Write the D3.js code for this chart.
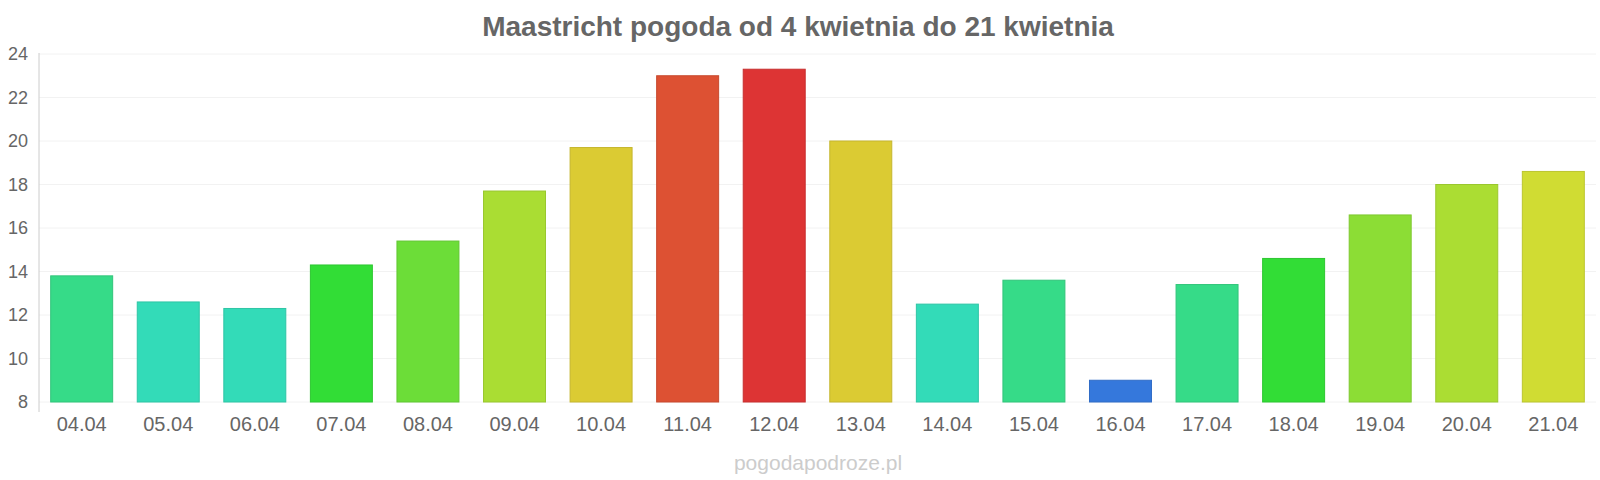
<!DOCTYPE html>
<html lang="pl">
<head>
<meta charset="UTF-8">
<title>Maastricht pogoda</title>
<style>
  * { margin: 0; padding: 0; box-sizing: border-box; }
  body { background: #fff; font-family: "Liberation Sans", Arial, sans-serif; overflow: hidden; }
</style>
</head>
<body>
<svg id="chart" width="1600" height="480"></svg>
<script src="https://d3js.org/d3.v7.min.js"></script>
<script>
  const days = ["04.04", "05.04", "06.04", "07.04", "08.04", "09.04", "10.04", "11.04", "12.04",
    "13.04", "14.04", "15.04", "16.04", "17.04", "18.04", "19.04", "20.04", "21.04"];
  const temps = [13.8, 12.6, 12.3, 14.3, 15.4, 17.7, 19.7, 23.0, 23.3,
    20.0, 12.5, 13.6, 9.0, 13.4, 14.6, 16.6, 18.0, 18.6];
  const colors = ["#36db88", "#33dbb8", "#33dbb8", "#32dd36", "#6cdd38", "#aadd33", "#dbcb33", "#dd5133", "#dd3434",
    "#dbcb33", "#33dbb8", "#36db88", "#3578dc", "#36db88", "#32dd36", "#8cdd35", "#abdd33", "#d0dc33"];
  const yTicks = [8, 10, 12, 14, 16, 18, 20, 22, 24];

  const svg = d3.select("#chart");
  const plotLeft = 39, plotRight = 1596, plotTop = 54, plotBottom = 402;
  const font = "'Liberation Sans', Arial, sans-serif";

  const x = d3.scaleBand().domain(days).range([plotLeft, plotRight]).paddingInner(0.284).paddingOuter(0.135);
  const y = d3.scaleLinear().domain([8, 24]).range([plotBottom, plotTop]);

  // Grid
  svg.append("g").selectAll("line").data(yTicks).join("line")
    .attr("x1", plotLeft).attr("x2", plotRight)
    .attr("y1", d => y(d)).attr("y2", d => y(d))
    .attr("stroke", "#f2f2f2").attr("stroke-width", 1);

  // Bars
  svg.append("g").selectAll("rect").data(temps).join("rect")
    .attr("x", (d, i) => x(days[i]))
    .attr("y", d => y(d))
    .attr("width", x.bandwidth())
    .attr("height", d => plotBottom - y(d))
    .attr("fill", (d, i) => colors[i])
    .attr("stroke", (d, i) => d3.color(colors[i]).darker(0.3))
    .attr("stroke-width", 1);

  // Y axis
  const yAxis = svg.append("g").attr("transform", `translate(${plotLeft},0)`)
    .call(d3.axisLeft(y).tickValues(yTicks).tickSize(0).tickPadding(11));
  yAxis.select(".domain").remove();
  yAxis.selectAll("text").attr("font-size", 18).attr("fill", "#666").attr("font-family", font);

  svg.append("line").attr("x1", plotLeft).attr("x2", plotLeft).attr("y1", plotTop - 1).attr("y2", plotBottom + 10)
    .attr("stroke", "#ccc").attr("stroke-width", 1);

  // X axis
  const xAxis = svg.append("g").attr("transform", `translate(0,${plotBottom})`)
    .call(d3.axisBottom(x).tickSize(0).tickPadding(15));
  xAxis.select(".domain").remove();
  xAxis.selectAll("text").attr("font-size", 20).attr("fill", "#666").attr("font-family", font);

  // Title
  svg.append("text").attr("x", 798).attr("y", 36).attr("text-anchor", "middle")
    .attr("font-size", 28).attr("font-weight", "bold").attr("fill", "#666").attr("font-family", font)
    .text("Maastricht pogoda od 4 kwietnia do 21 kwietnia");

  // Footer
  svg.append("text").attr("x", 818).attr("y", 470).attr("text-anchor", "middle")
    .attr("font-size", 21).attr("fill", "#ccc").attr("font-family", font).text("pogodapodroze.pl");
</script>
</body>
</html>
